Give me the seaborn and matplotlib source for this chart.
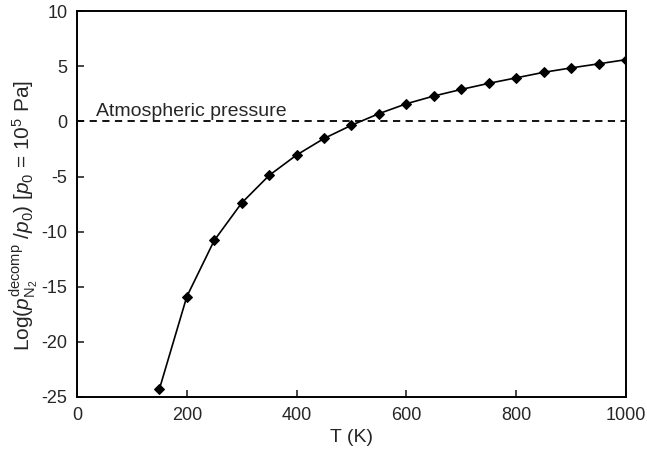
import numpy as np
import pandas as pd
import matplotlib
matplotlib.use("Agg")
import matplotlib.pyplot as plt
import seaborn as sns

# datos
temps = [150, 200, 250, 300, 350, 400, 450, 500, 550, 600,
         650, 700, 750, 800, 850, 900, 950, 1000]
log_p = [-24.3, -15.9, -10.8, -7.4, -4.9, -3.05, -1.55, -0.35, 0.7, 1.6,
         2.3, 2.9, 3.45, 3.95, 4.45, 4.85, 5.22, 5.6]
x_ticks = [0, 200, 400, 600, 800, 1000]
y_ticks = [-25, -20, -15, -10, -5, 0, 5, 10]

sns.set_style("ticks")
plt.rcParams['font.family'] = ['Liberation Sans', 'DejaVu Sans']
plt.rcParams['mathtext.fontset'] = 'custom'
plt.rcParams['mathtext.rm'] = 'Liberation Sans'
plt.rcParams['mathtext.it'] = 'Liberation Sans:italic'
plt.rcParams['axes.unicode_minus'] = False

df = pd.DataFrame({"T": temps, "logp": log_p})

fig = plt.figure(figsize=(6.47, 4.55), dpi=100)
ax = fig.add_axes([0.119, 0.1275, 0.8485, 0.848])

ax.axhline(0, color="black", lw=1.3, ls=(0, (4, 3)), zorder=1)
sns.lineplot(data=df, x="T", y="logp", ax=ax, color="black", lw=1.2,
             marker="D", markersize=5.5, markeredgecolor="black", zorder=3)

ax.text(35, 0.45, "Atmospheric pressure", fontsize=14, va="baseline", ha="left")

ax.set_xlim(0, 1000)
ax.set_ylim(-25, 10)
ax.set_xticks(x_ticks)
ax.set_yticks(y_ticks)
ax.tick_params(direction="in", length=5, width=1.2, labelsize=13, pad=7)
for s in ax.spines.values():
    s.set_linewidth(1.4)
    s.set_color("black")

ax.set_xlabel("T (K)", fontsize=14, labelpad=4)
ax.set_ylabel(r"Log($\mathit{p}_{\mathrm{N_2}}^{\mathrm{decomp}}$ /$\mathit{p}_0$) [$\mathit{p}_0$ = 10$^5$ Pa]",
              fontsize=15)
ax.yaxis.set_label_coords(-0.066, 0.47)

fig.savefig("out.png", dpi=100)
